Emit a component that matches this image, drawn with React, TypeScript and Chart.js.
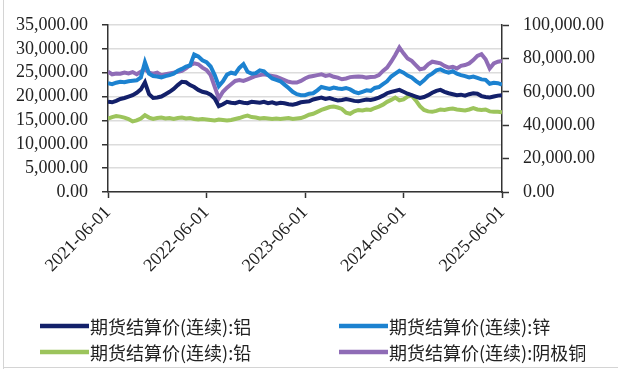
import React, { useEffect, useRef } from "react";
import { Chart, registerables } from "chart.js";

Chart.register(...registerables);

// Semi-monthly observation dates, 2021-06-01 .. 2025-06-01
const dates: string[] = (() => {
  const out: string[] = [];
  for (let y = 2021; y <= 2025; y++) {
    for (let m = 1; m <= 12; m++) {
      if (y === 2021 && m < 6) continue;
      if (y === 2025 && m > 6) continue;
      const mm = String(m).padStart(2, "0");
      out.push(`${y}-${mm}-01`);
      if (!(y === 2025 && m === 6)) out.push(`${y}-${mm}-16`);
    }
  }
  return out;
})();

const tickLabels = ["2021-06-01", "2022-06-01", "2023-06-01", "2024-06-01", "2025-06-01"];
const leftTicks = [0, 5000, 10000, 15000, 20000, 25000, 30000, 35000];
const rightTicks = [0, 20000, 40000, 60000, 80000, 100000];

const seriesNames = [
  "期货结算价(连续):铝",
  "期货结算价(连续):锌",
  "期货结算价(连续):铅",
  "期货结算价(连续):阴极铜",
];
const seriesColors = ["#13206a", "#1c82d0", "#9cc45c", "#8f6cb6"];

const aluminum = [
  18900, 18800, 19100, 19500, 19700, 20000, 20300, 20800, 21500, 23000,
  20500, 19700, 19800, 20000, 20500, 21000, 21600, 22400, 23100, 23000,
  22400, 22000, 21400, 21000, 20800, 20400, 19600, 18000, 18400, 18900,
  18700, 18600, 18900, 18700, 18600, 18900, 18800, 18700, 18900, 18600,
  18800, 18500, 18700, 18600, 18400, 18300, 18500, 18800, 18900, 19000,
  19400, 19600, 19800, 19500, 19700, 19400, 19200, 19300, 19500, 19300,
  19100, 19000, 19200, 19400, 19300, 19500, 19800, 20200, 20700, 21000,
  21200, 21400, 21000, 20600, 20300, 20000, 19700, 19900, 20300, 20800,
  21200, 21400, 21000, 20700, 20500, 20300, 20400, 20200, 20500, 20700,
  20600, 20100, 19900, 19800, 20000, 20200, 20300,
];

const zinc = [
  22800, 22600, 22900, 23100, 23000, 23200, 23300, 23400, 24000, 27200,
  24800, 24300, 24200, 24000, 24300, 24500, 24800, 25400, 25800, 26300,
  26500, 28800, 28400, 27600, 27200, 26300, 24500, 22200, 23200, 24600,
  25000, 24800, 26000, 26800, 25200, 24800, 24900, 25500, 25300, 24500,
  23800, 23500, 23200, 22500, 21800, 21000, 20500, 20300, 20300, 20600,
  20700, 21300, 22000, 21800, 21600, 21900, 21700, 21600, 21800, 21500,
  21000, 20700, 21000, 21300, 21200, 21800, 22000, 22600, 23200, 24200,
  24800, 25400, 25000, 24400, 24000, 23300, 22700, 23400, 24300, 24800,
  25500, 25700, 25300, 25000, 25300, 24800, 24500, 24300, 24000, 24200,
  23900, 23600, 23500, 22700, 22900, 22800, 22500,
];

const lead = [
  15400, 15700, 15900, 15800, 15600, 15300, 14800, 15000, 15400, 16100,
  15600, 15300, 15500, 15600, 15400, 15500, 15300, 15500, 15600, 15400,
  15500, 15300, 15200, 15300, 15200, 15100, 15000, 15200, 15100, 15000,
  15100, 15300, 15500, 15800, 16000, 15700, 15600, 15400, 15500, 15400,
  15300, 15400, 15300, 15400, 15500, 15300, 15400, 15500, 15800, 16200,
  16400, 16800, 17200, 17500, 17800, 17900, 17700, 17400, 16600, 16400,
  16900, 17200, 17100, 17300, 17200, 17600, 17900, 18300, 18900, 19300,
  19800, 19200, 19400, 20000, 20200, 19200, 18000, 17200, 16900, 16800,
  17000, 17300, 17200, 17400, 17500, 17300, 17200, 17100, 17300, 17600,
  17300, 17200, 17300, 16900, 16800, 16800, 16700,
];

const copper = [
  72000, 70500, 71000, 70800, 71500, 71000, 71800, 70500, 72000, 73500,
  71500, 70800, 71500, 70000, 70500, 71000, 71500, 72000, 72500, 74000,
  76000, 77000, 76500, 74500, 73000, 70000, 63000, 56000, 60000, 62500,
  64500, 66500, 67000, 66500, 67500, 68500, 69500, 70000, 70500, 70000,
  69500, 69000, 68000, 67000, 66000, 65500, 65500, 66500, 68000, 69000,
  69500, 70000, 70500, 69500, 70000, 69000, 68500, 67500, 68000, 68800,
  69000, 69200, 69000, 68500, 68800, 69000, 70000, 72500, 74500, 78000,
  82000, 86500, 83000, 80000, 78500, 76000, 73500, 74000, 76500, 78000,
  77500, 77000, 75500, 74500, 75000, 74000, 75500, 76000, 77000, 79000,
  81500, 82500, 79500, 74000, 77000, 78000, 78500,
];

const SERIF = "'Liberation Serif', 'Times New Roman', serif";
const CJK = "'Noto Sans CJK SC', 'Noto Sans', sans-serif";

function monthsFromStart(d: string): number {
  const [y, m, day] = d.split("-").map(Number);
  return (y - 2021) * 12 + (m - 6) + (day - 1) / 30;
}

function fmt(v: number): string {
  const n = Math.round(Number(v));
  const s = String(n).replace(/\B(?=(\d{3})+(?!\d))/g, ",");
  return s + ".00";
}

const legendPlugin = {
  id: "gridLegend",
  afterDraw(chart: any) {
    const ctx = chart.ctx as CanvasRenderingContext2D;
    const pos = [
      [40, 326],
      [339, 326],
      [40, 352],
      [339, 352],
    ];
    ctx.save();
    chart.data.datasets.forEach((ds: any, i: number) => {
      const [x, y] = pos[i];
      ctx.strokeStyle = ds.borderColor;
      ctx.lineWidth = 4.5;
      ctx.lineCap = "butt";
      ctx.beginPath();
      ctx.moveTo(x, y);
      ctx.lineTo(x + 49, y);
      ctx.stroke();
      ctx.fillStyle = "#222";
      ctx.font = `18px ${CJK}`;
      ctx.textBaseline = "middle";
      ctx.textAlign = "left";
      ctx.fillText(ds.label, x + 50, y + 1);
    });
    ctx.restore();
  },
};

export default function App() {
  const ref = useRef<HTMLCanvasElement | null>(null);

  useEffect(() => {
    if (!ref.current) return;
    const xs = dates.map(monthsFromStart);
    const all = [aluminum, zinc, lead, copper];
    const chart = new Chart(ref.current, {
      type: "line",
      data: {
        datasets: all.map((vals, i) => ({
          label: seriesNames[i],
          data: vals.map((v, j) => ({ x: xs[j], y: v })),
          borderColor: seriesColors[i],
          backgroundColor: seriesColors[i],
          borderWidth: 4,
          pointRadius: 0,
          tension: 0,
          yAxisID: i === 3 ? "y1" : "y",
        })),
      },
      options: {
        animation: false,
        responsive: true,
        maintainAspectRatio: false,
        layout: { padding: { top: 25, bottom: 77, left: 0, right: 0 } },
        plugins: {
          legend: { display: false },
          tooltip: { enabled: false },
        },
        scales: {
          x: {
            type: "linear",
            min: 0,
            max: 48,
            afterBuildTicks: (s: any) => {
              s.ticks = tickLabels.map((_, i) => ({ value: i * 12 }));
            },
            afterFit: (s: any) => {
              s.height = 100;
            },
            ticks: {
              autoSkip: false,
              minRotation: 45,
              maxRotation: 45,
              padding: 4,
              color: "#222",
              font: { family: SERIF, size: 18 },
              callback: (v: any) => tickLabels[Math.round(Number(v) / 12)] ?? "",
            },
            grid: {
              drawOnChartArea: false,
              tickLength: 6,
              tickColor: "#333",
              tickWidth: 1.5,
            },
            border: { color: "#333", width: 1.5 },
          },
          y: {
            type: "linear",
            position: "left",
            min: 0,
            max: 35000,
            afterBuildTicks: (s: any) => {
              s.ticks = leftTicks.map((v) => ({ value: v }));
            },
            afterFit: (s: any) => {
              s.width = 108;
            },
            ticks: {
              autoSkip: false,
              padding: 14,
              color: "#222",
              font: { family: SERIF, size: 18 },
              callback: (v: any) => fmt(v),
            },
            grid: {
              color: "#dcdcdc",
              lineWidth: 1.5,
              tickLength: 6,
              tickColor: "#333",
              tickWidth: 1.5,
            },
            border: { color: "#333", width: 1.5 },
          },
          y1: {
            type: "linear",
            position: "right",
            min: 0,
            max: 100000,
            afterBuildTicks: (s: any) => {
              s.ticks = rightTicks.map((v) => ({ value: v }));
            },
            afterFit: (s: any) => {
              s.width = 116;
            },
            ticks: {
              autoSkip: false,
              padding: 14,
              color: "#222",
              font: { family: SERIF, size: 18 },
              callback: (v: any) => fmt(v),
            },
            grid: {
              drawOnChartArea: false,
              tickLength: 7,
              tickColor: "#333",
              tickWidth: 1.5,
            },
            border: { color: "#333", width: 1.5 },
          },
        },
      },
      plugins: [legendPlugin],
    } as any);
    return () => chart.destroy();
  }, []);

  return (
    <div
      style={{
        position: "absolute",
        left: 0,
        top: 0,
        width: 618,
        height: 369,
        background: "#fff",
      }}
    >
      <div
        style={{
          position: "absolute",
          left: 3,
          top: 0,
          width: 1,
          height: 369,
          background: "#d4d4d4",
        }}
      />
      <div
        style={{
          position: "absolute",
          left: 3,
          top: 367,
          width: 615,
          height: 1,
          background: "#d4d4d4",
        }}
      />
      <canvas ref={ref} />
    </div>
  );
}
